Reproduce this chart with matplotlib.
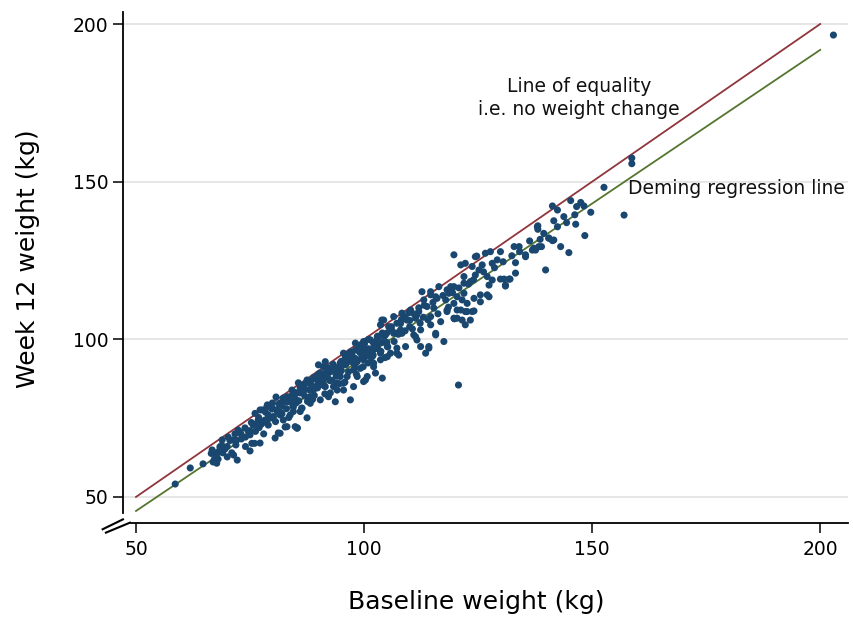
import matplotlib
matplotlib.use("Agg")
import matplotlib.pyplot as plt

# ---------------- data (kg) ----------------
baseline = [
    58.6, 61.9, 64.7, 66.9, 67.6, 68.0, 66.7, 68.4, 70.0, 72.2, 68.9, 70.2, 71.3, 71.7, 72.8,
    75.0, 73.9, 75.7, 76.8, 75.0, 77.2, 77.7, 78.8, 79.9, 80.5, 81.2, 82.7, 82.3, 83.8, 84.5,
    83.8, 85.1, 80.7, 82.3, 85.4, 81.6, 79.4,
    76.1, 77.2, 78.7, 78.3, 80.1, 80.9, 81.6, 82.3, 83.1, 83.8, 84.2, 85.3, 85.6, 86.0, 86.7,
    87.5, 83.1, 84.9, 87.5, 84.5, 86.4, 88.2, 88.9, 89.7, 90.4, 91.1, 91.5, 91.9, 92.6, 93.3,
    92.2, 93.7, 92.6, 94.1, 94.8, 94.8, 96.3, 97.0, 97.7, 98.1, 99.2, 98.5, 100.3, 99.8, 100.9,
    101.8, 102.0, 102.5, 100.7, 102.9, 90.0, 91.5, 95.5, 96.3,
    112.7, 114.6, 116.0, 118.2, 119.7, 121.9, 122.6, 122.2, 118.2, 120.4, 113.8, 112.0, 110.2,
    108.3, 106.5, 104.3, 103.6, 105.4, 107.2, 109.4, 111.3, 114.6, 116.8, 114.6, 112.4, 115.7,
    117.5, 114.2, 113.5, 111.6, 110.9, 108.3, 106.5, 104.7, 102.9, 101.4, 99.9, 98.1, 102.9,
    105.1, 107.2, 109.1, 107.6, 105.1, 103.6, 101.4, 99.9, 97.0, 95.5, 94.8, 99.2, 102.1,
    104.0, 100.7, 93.3, 120.4,
    119.7, 121.2, 122.2, 124.4, 126.6, 127.7, 129.9, 129.2, 128.1, 125.9, 123.7, 125.2, 124.4,
    121.9, 123.3, 127.0, 128.1, 129.9, 131.8, 127.4, 131.0, 133.2, 133.2, 132.9, 134.0, 135.4,
    136.9, 137.6, 138.3, 138.0, 140.5, 141.6, 142.4, 139.8, 121.9, 119.7, 118.6, 120.4, 117.9,
    121.5, 124.1, 125.5, 127.4, 121.2, 122.6, 123.7, 119.7, 115.7, 114.6, 116.4, 113.1, 115.3,
    118.2,
    141.3, 142.4, 145.3, 147.5, 148.2, 146.6, 149.7, 146.2, 144.4, 146.4, 141.6, 138.1, 138.1,
    148.4, 140.5, 141.3, 138.6, 143.1, 138.9, 144.9, 135.4,
    202.9, 158.7, 158.7, 152.6, 157.0, 120.7,
    84, 85, 86, 87, 87, 88, 88, 89, 89, 90, 90, 91, 91, 92, 92, 93, 93, 94, 94, 95, 95, 96, 96,
    97, 97, 98, 98, 99, 99, 100, 100, 101, 101, 102, 102, 103, 103, 104, 104, 105, 105, 106,
    106, 107, 108, 108, 109, 110, 110, 111, 112, 113,
    72, 73, 74, 75, 76, 77, 78, 79, 80, 80, 81, 82, 83, 78, 76, 74, 70, 69, 71, 68,
    99.9, 85.3, 81.6, 71.4, 67.7, 75.4, 83.1, 81.6, 78.7, 86.0, 88.2, 90.4, 94.1, 95.5, 97.7,
    98.5, 102.1, 103.6, 105.8, 107.2,
    124.7, 130.7, 132.0, 131.0, 125.5, 127.0, 124.1, 123.3, 122.2, 121.5, 119.8, 115.7, 114.2,
    112.4, 111.3, 119.0, 103.9,
    66.5, 67.2, 68.8, 69.5, 70.6, 71.9, 72.4, 73.1, 74.6, 75.3, 76.2, 76.9, 77.5, 78.4, 79.0,
    79.8, 80.6, 81.3, 82.0, 82.8, 83.5, 84.1, 84.8, 85.7, 86.3, 86.9, 87.6, 88.4, 89.1, 89.8,
    90.5, 91.2, 91.8, 92.5, 93.2, 93.9, 94.6, 95.2, 95.9, 96.6, 97.3, 97.9, 98.7, 99.4, 100.1,
    100.8, 101.5, 102.2, 103.0, 103.7, 104.4, 105.2, 105.9, 106.6, 107.5, 108.2, 109.0, 109.8,
    110.6, 111.5, 112.3, 113.2, 114.0, 115.1, 116.2, 117.3, 118.5, 119.4, 120.8, 122.9, 124.0,
    126.2, 128.6, 130.5, 132.4, 134.1, 136.3, 137.2, 139.4, 143.8,
    88.7, 91.4, 95.8, 98.3, 104.6,
]
week12 = [
    54.1, 59.2, 60.5, 61.1, 63.3, 64.3, 64.9, 65.9, 62.7, 61.7, 68.1, 69.0, 68.1, 70.0, 70.6,
    64.6, 71.9, 72.8, 74.4, 69.7, 67.1, 77.6, 79.2, 79.8, 68.7, 70.3, 72.2, 74.4, 76.0, 78.5,
    80.8, 79.8, 81.7, 81.4, 71.9, 77.0, 75.1,
    76.5, 77.6, 78.6, 74.4, 75.5, 77.6, 79.8, 80.8, 81.8, 80.2, 83.9, 83.0, 86.2, 84.6, 85.5,
    87.1, 72.3, 72.3, 75.1, 77.1, 78.2, 81.8, 83.9, 87.1, 89.3, 91.3, 92.9, 88.2, 89.7, 85.0,
    81.8, 80.2, 83.0, 86.2, 88.2, 92.5, 93.5, 80.8, 90.3, 96.6, 95.7, 92.9, 87.1, 91.3, 92.5,
    94.5, 96.6, 89.3, 96.6, 98.8, 91.9, 85.0, 83.9, 88.2,
    115.1, 114.1, 113.0, 115.7, 111.4, 114.6, 111.4, 108.8, 108.8, 109.3, 110.4, 108.8, 109.3,
    108.3, 107.2, 106.1, 104.6, 104.0, 105.1, 106.1, 106.7, 107.2, 105.6, 104.6, 103.0, 101.9,
    99.3, 97.7, 95.6, 99.8, 101.4, 101.9, 101.9, 101.4, 100.8, 99.8, 99.3, 98.8, 98.2,
    97.7, 97.2, 97.7, 95.0, 94.5, 95.6, 95.6, 93.5, 94.5, 95.6, 92.4, 90.8, 92.4,
    87.7, 88.2, 90.3, 106.7,
    126.8, 123.6, 124.1, 126.2, 127.3, 127.8, 127.8, 125.2, 124.1, 123.6, 123.1, 122.0, 120.4,
    119.9, 118.3, 119.9, 118.8, 119.1, 119.1, 117.2, 117.2, 121.0, 124.3, 129.4, 129.4, 126.8,
    128.3, 128.3, 129.4, 135.7, 132.1, 131.5, 135.7, 122.0, 117.8, 116.7, 114.6, 113.5, 112.5,
    112.5, 113.0, 111.9, 113.5, 109.3, 108.8, 108.8, 106.7, 113.5, 115.1, 116.7, 112.5, 109.9,
    109.3,
    142.3, 141.0, 144.0, 143.4, 142.3, 142.1, 140.3, 139.5, 137.0, 136.5, 137.6, 136.0, 134.9,
    132.9, 132.1, 131.3, 131.7, 129.4, 129.4, 127.5, 126.2,
    196.5, 157.5, 155.7, 148.2, 139.4, 85.5,
    82, 81, 83, 84, 82, 86, 84, 85, 88, 86, 89, 87, 89, 88, 91, 90, 87, 91, 89, 93, 90, 92, 95,
    93, 96, 94, 91, 96, 98, 95, 97, 97, 100, 99, 95, 101, 97, 102, 99, 102, 99, 103,
    104, 102, 105, 103, 107, 106, 104, 108, 110, 107,
    68, 70, 69, 71, 73, 72, 74, 76, 75, 78, 77, 79, 78, 70, 67, 66, 66, 64, 64, 62,
    86.6, 71.8, 70.2, 63.3, 60.7, 67.0, 80.2, 76.0, 74.4, 77.1, 79.7, 80.8, 83.9, 86.1, 85.0,
    88.2, 91.3, 93.5, 95.6, 95.6,
    126.4, 119.1, 119.1, 116.9, 114.1, 114.1, 109.0, 106.1, 104.6, 106.1, 106.5, 101.4, 97.2,
    97.7, 100.8, 116.7, 106.1,
    63.8, 62.0, 66.4, 65.2, 67.9, 66.5, 71.2, 68.4, 70.9, 73.6, 70.8, 75.2, 73.1, 76.9, 72.8,
    77.9, 73.9, 79.5, 76.4, 80.6, 75.2, 79.9, 83.1, 80.5, 78.1, 85.7, 80.3, 86.9, 82.2, 84.6,
    87.8, 85.3, 90.4, 86.9, 92.1, 88.4, 85.9, 91.6, 94.3, 89.7, 95.2, 92.1, 97.1, 94.0, 98.6,
    94.8, 92.9, 97.8, 100.1, 96.2, 100.9, 97.6, 103.2, 99.3, 101.6, 106.3, 102.7, 108.4,
    103.3, 107.6, 105.1, 110.8, 106.2, 111.7, 108.1, 113.9, 110.2, 114.8, 116.3, 117.5, 118.9,
    121.4, 122.7, 124.6, 126.5, 127.8, 131.2, 128.9, 133.6, 138.9,
    80.9, 82.7, 86.4, 89.0, 94.2,
]

equality_x = [50, 200]
deming_intercept = -3.2
deming_slope = 0.975
deming_x = [50, 200]

xticks = [50, 100, 150, 200]
yticks = [50, 100, 150, 200]

# ---------------- plot ----------------
NAVY = "#1A476F"
MAROON = "#90353B"
GREEN = "#55752F"

fig = plt.figure(figsize=(8.54, 6.2), dpi=100)
ax = fig.add_axes([0.1440, 0.1565, 0.8490, 0.8246])

ax.set_xlim(47.15, 206.1)
ax.set_ylim(41.75, 203.9)

for yt in yticks:
    ax.axhline(yt, color="#E2E2E2", lw=1.2, zorder=0)

ax.plot(equality_x, equality_x, color=MAROON, lw=1.3, zorder=2)
dy = [deming_intercept + deming_slope * v for v in deming_x]
ax.plot(deming_x, dy, color=GREEN, lw=1.3, zorder=2)

ax.scatter(baseline, week12, s=26, color=NAVY, edgecolors="none", zorder=3)

ax.text(147.1, 176.5, "Line of equality\ni.e. no weight change", ha="center", va="center",
        fontsize=13.5, linespacing=1.25, color="#111111")
ax.text(157.8, 147.7, "Deming regression line", ha="left", va="center",
        fontsize=13.5, color="#111111")

for s in ["top", "right"]:
    ax.spines[s].set_visible(False)
ax.spines["left"].set_bounds(44.9, 203.9)
ax.spines["bottom"].set_bounds(48.9, 206.1)
for s in ["left", "bottom"]:
    ax.spines[s].set_linewidth(1.3)
    ax.spines[s].set_color("black")

# axis break marks
ax.plot([42.69, 47.15], [39.75, 42.9], color="black", lw=1.5, clip_on=False)
ax.plot([43.41, 48.68], [38.68, 41.85], color="black", lw=1.5, clip_on=False)

ax.set_xticks(xticks)
ax.set_yticks(yticks)
ax.tick_params(axis="both", length=7.5, width=1.1, labelsize=13.5, color="black")
ax.tick_params(axis="x", pad=5)
ax.tick_params(axis="y", pad=3)

ax.set_xlabel("Baseline weight (kg)", fontsize=18)
ax.set_ylabel("Week 12 weight (kg)", fontsize=18)
ax.xaxis.set_label_coords(0.487, -0.131)
ax.yaxis.set_label_coords(-0.1145, 0.516)

fig.savefig("out.png", dpi=100)
